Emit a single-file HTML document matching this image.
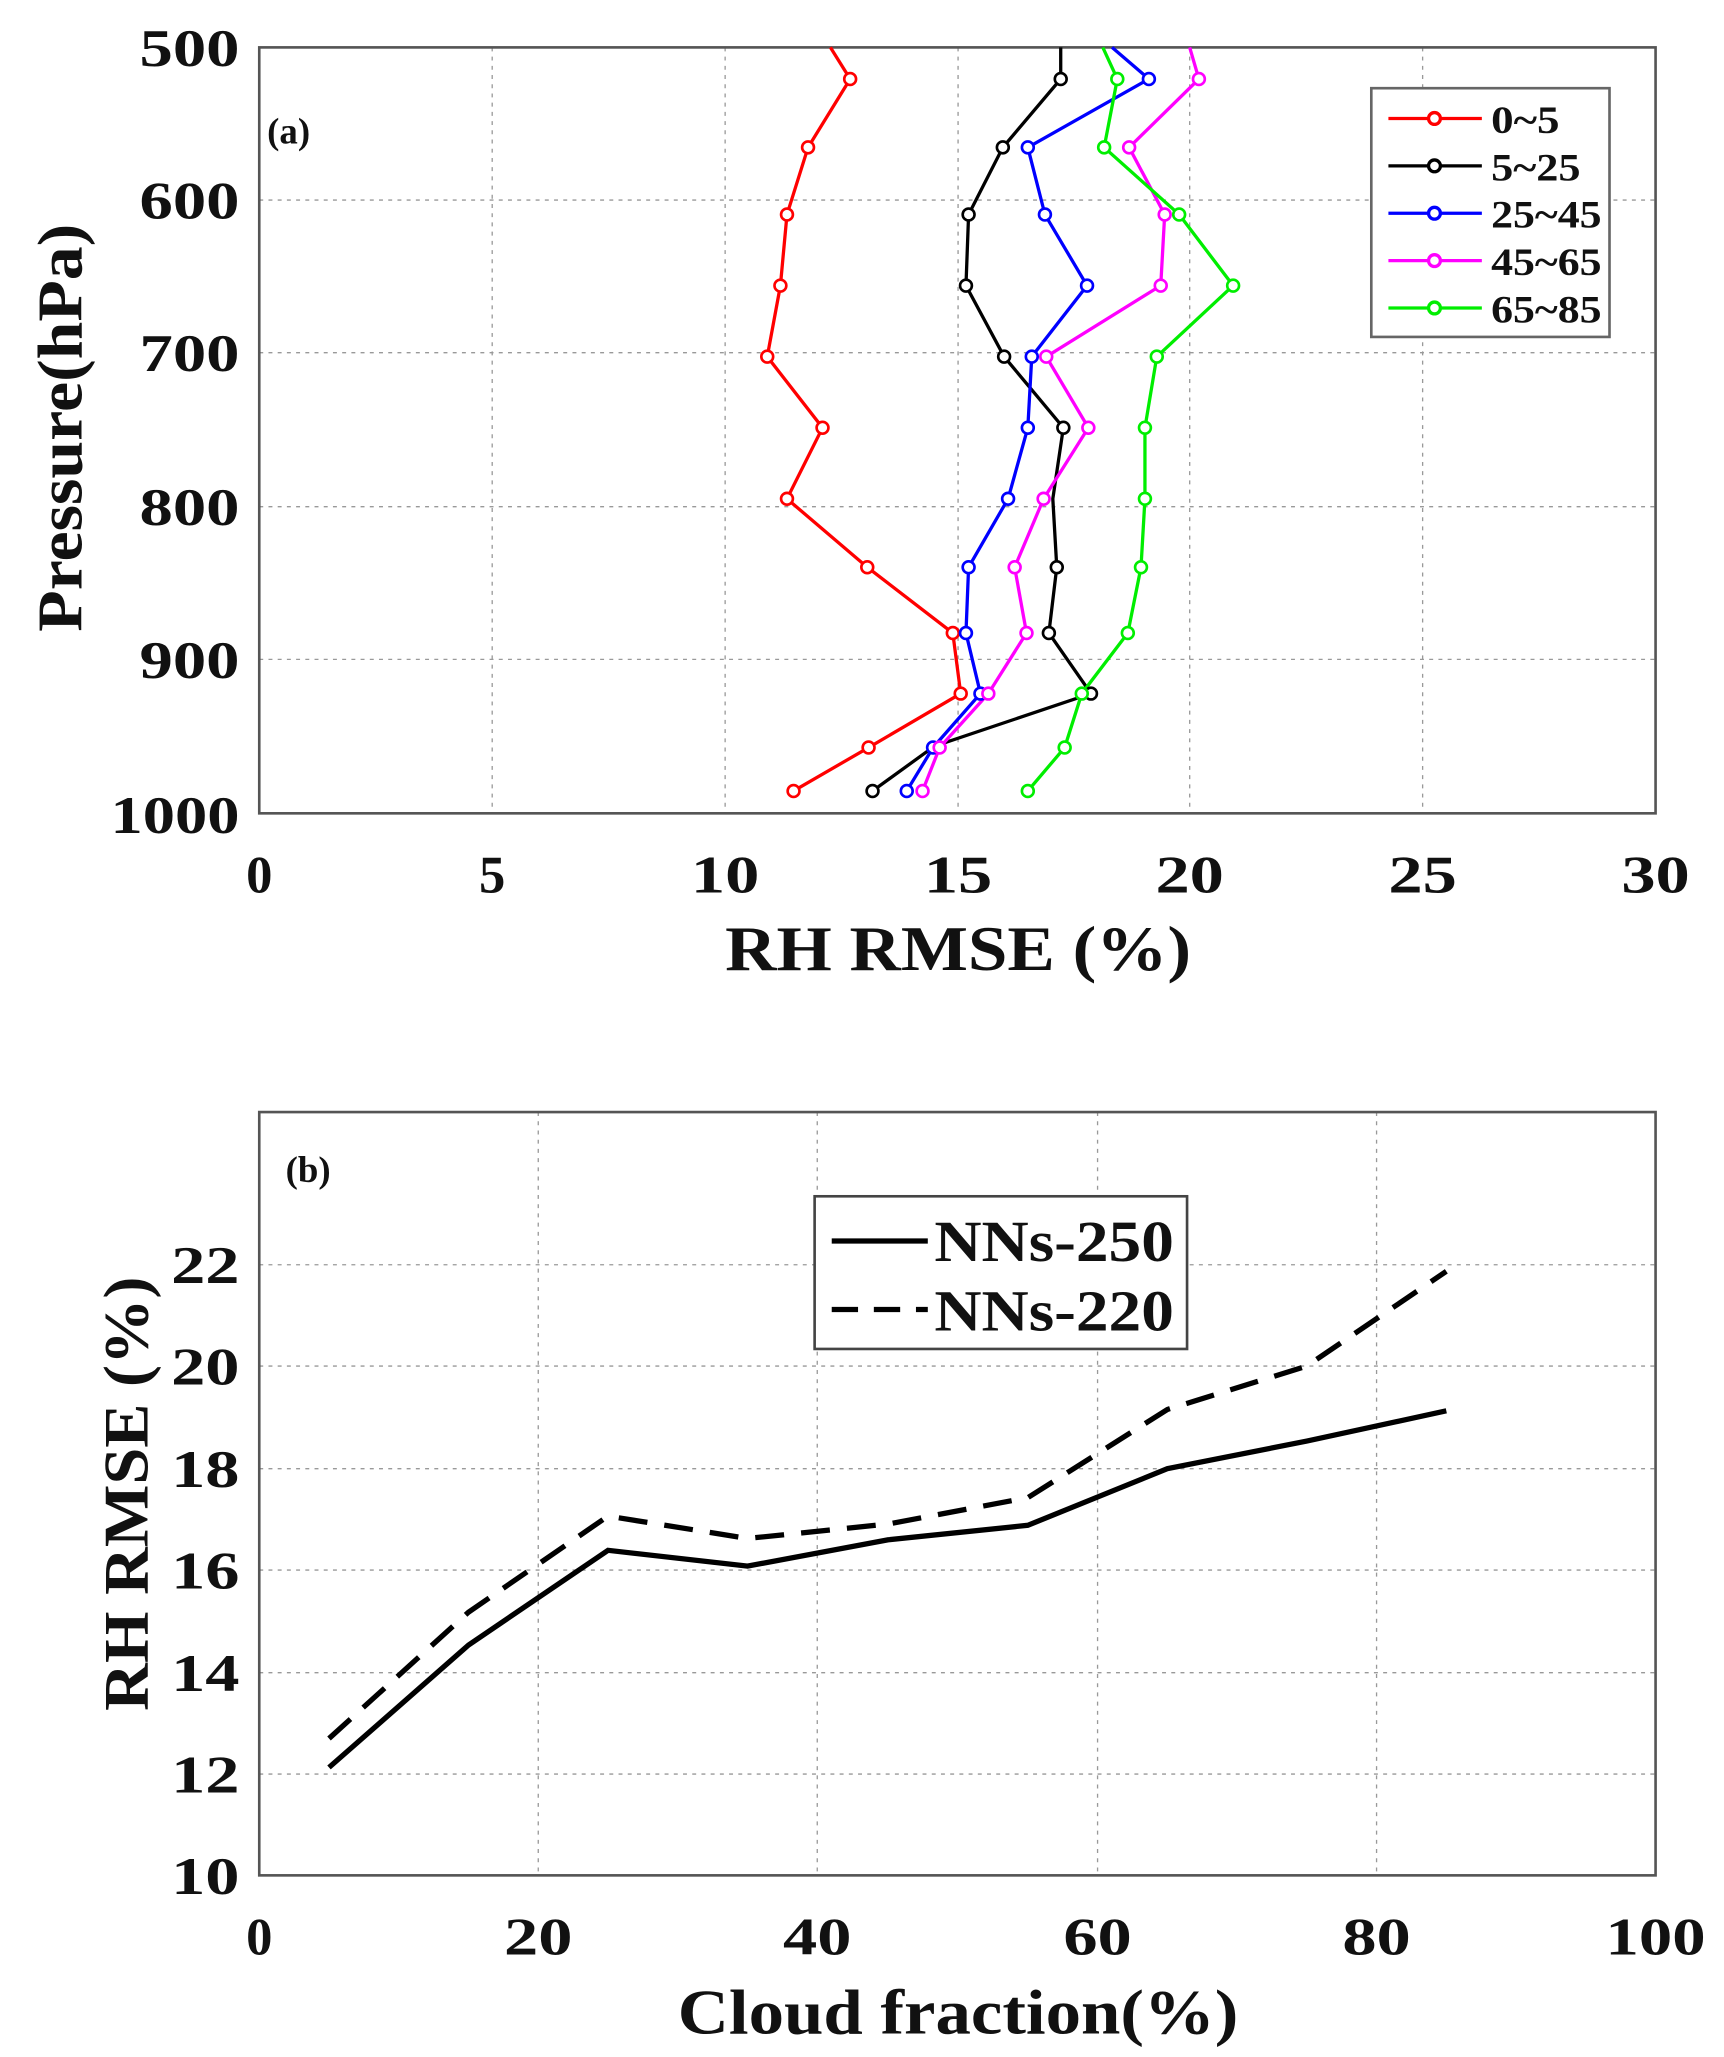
<!DOCTYPE html>
<html><head><meta charset="utf-8"><style>html,body{margin:0;padding:0;background:#fff}svg{display:block}</style></head>
<body>
<svg width="1724" height="2057" viewBox="0 0 1310 1563" xmlns="http://www.w3.org/2000/svg" font-family="'Liberation Serif', serif" font-weight="bold">
<rect width="1310" height="1563" fill="#fff"/>
<!-- Panel (a) grid -->
<g stroke="#999" stroke-width="1" stroke-dasharray="3,4" fill="none">
<line x1="374" y1="36" x2="374" y2="618"/><line x1="551" y1="36" x2="551" y2="618"/><line x1="728" y1="36" x2="728" y2="618"/><line x1="904" y1="36" x2="904" y2="618"/><line x1="1081" y1="36" x2="1081" y2="618"/>
<line x1="197" y1="152" x2="1258" y2="152"/><line x1="197" y1="268" x2="1258" y2="268"/><line x1="197" y1="385" x2="1258" y2="385"/><line x1="197" y1="501" x2="1258" y2="501"/>
</g>
<rect x="197" y="36" width="1061" height="582" fill="none" stroke="#555" stroke-width="2"/>
<g fill="none" stroke-width="2.5">
<polyline stroke="#ff0000" points="631,36 646,60 614,112 598,163 593,217 583,271 625,325 598,379 659,431 724,481 730,527 660,568 603,601"/>
<polyline stroke="#000" points="806,36 806,60 762,112 736,163 734,217 763,271 808,325 800,379 803,431 797,481 829,527 710,567 663,601"/>
<polyline stroke="#0000ff" points="845,36 873,60 781,112 794,163 826,217 784,271 781,325 766,379 736,431 734,481 745,527 709,568 689,601"/>
<polyline stroke="#ff00ff" points="904,36 911,60 858,112 885,163 882,217 795,271 827,325 793,379 771,431 780,481 751,527 714,568 701,601"/>
<polyline stroke="#00ee00" points="838,36 849,60 839,112 896,163 937,217 879,271 870,325 870,379 867,431 857,481 822,527 809,568 781,601"/>
</g>
<g fill="#fff" stroke-width="2">
<g stroke="#ff0000"><circle cx="646" cy="60" r="4.5"/><circle cx="614" cy="112" r="4.5"/><circle cx="598" cy="163" r="4.5"/><circle cx="593" cy="217" r="4.5"/><circle cx="583" cy="271" r="4.5"/><circle cx="625" cy="325" r="4.5"/><circle cx="598" cy="379" r="4.5"/><circle cx="659" cy="431" r="4.5"/><circle cx="724" cy="481" r="4.5"/><circle cx="730" cy="527" r="4.5"/><circle cx="660" cy="568" r="4.5"/><circle cx="603" cy="601" r="4.5"/></g>
<g stroke="#000"><circle cx="806" cy="60" r="4.5"/><circle cx="762" cy="112" r="4.5"/><circle cx="736" cy="163" r="4.5"/><circle cx="734" cy="217" r="4.5"/><circle cx="763" cy="271" r="4.5"/><circle cx="808" cy="325" r="4.5"/><circle cx="803" cy="431" r="4.5"/><circle cx="797" cy="481" r="4.5"/><circle cx="829" cy="527" r="4.5"/><circle cx="663" cy="601" r="4.5"/></g>
<g stroke="#0000ff"><circle cx="873" cy="60" r="4.5"/><circle cx="781" cy="112" r="4.5"/><circle cx="794" cy="163" r="4.5"/><circle cx="826" cy="217" r="4.5"/><circle cx="784" cy="271" r="4.5"/><circle cx="781" cy="325" r="4.5"/><circle cx="766" cy="379" r="4.5"/><circle cx="736" cy="431" r="4.5"/><circle cx="734" cy="481" r="4.5"/><circle cx="745" cy="527" r="4.5"/><circle cx="709" cy="568" r="4.5"/><circle cx="689" cy="601" r="4.5"/></g>
<g stroke="#ff00ff"><circle cx="911" cy="60" r="4.5"/><circle cx="858" cy="112" r="4.5"/><circle cx="885" cy="163" r="4.5"/><circle cx="882" cy="217" r="4.5"/><circle cx="795" cy="271" r="4.5"/><circle cx="827" cy="325" r="4.5"/><circle cx="793" cy="379" r="4.5"/><circle cx="771" cy="431" r="4.5"/><circle cx="780" cy="481" r="4.5"/><circle cx="751" cy="527" r="4.5"/><circle cx="714" cy="568" r="4.5"/><circle cx="701" cy="601" r="4.5"/></g>
<g stroke="#00ee00"><circle cx="849" cy="60" r="4.5"/><circle cx="839" cy="112" r="4.5"/><circle cx="896" cy="163" r="4.5"/><circle cx="937" cy="217" r="4.5"/><circle cx="879" cy="271" r="4.5"/><circle cx="870" cy="325" r="4.5"/><circle cx="870" cy="379" r="4.5"/><circle cx="867" cy="431" r="4.5"/><circle cx="857" cy="481" r="4.5"/><circle cx="822" cy="527" r="4.5"/><circle cx="809" cy="568" r="4.5"/><circle cx="781" cy="601" r="4.5"/></g>
</g>
<!-- legend a -->
<rect x="1042" y="67" width="181" height="189" fill="#fff" stroke="#666" stroke-width="2"/>
<g stroke-width="2.5" fill="#fff">
<line x1="1055" y1="90" x2="1126" y2="90" stroke="#ff0000"/><circle cx="1090" cy="90" r="4.5" stroke="#ff0000"/>
<line x1="1055" y1="126" x2="1126" y2="126" stroke="#000"/><circle cx="1090" cy="126" r="4.5" stroke="#000"/>
<line x1="1055" y1="162" x2="1126" y2="162" stroke="#0000ff"/><circle cx="1090" cy="162" r="4.5" stroke="#0000ff"/>
<line x1="1055" y1="198" x2="1126" y2="198" stroke="#ff00ff"/><circle cx="1090" cy="198" r="4.5" stroke="#ff00ff"/>
<line x1="1055" y1="234" x2="1126" y2="234" stroke="#00ee00"/><circle cx="1090" cy="234" r="4.5" stroke="#00ee00"/>
</g>
<g font-size="30" fill="#111" lengthAdjust="spacingAndGlyphs">
<text x="1133" y="101" textLength="52" lengthAdjust="spacingAndGlyphs">0~5</text><text x="1133" y="137" textLength="68" lengthAdjust="spacingAndGlyphs">5~25</text><text x="1133" y="173" textLength="84" lengthAdjust="spacingAndGlyphs">25~45</text><text x="1133" y="209" textLength="84" lengthAdjust="spacingAndGlyphs">45~65</text><text x="1133" y="245" textLength="84" lengthAdjust="spacingAndGlyphs">65~85</text>
</g>
<text x="203" y="109" font-size="28" fill="#111">(a)</text>
<g font-size="40" fill="#111" text-anchor="end">
<text x="182" y="50" textLength="76" lengthAdjust="spacingAndGlyphs">500</text><text x="182" y="166" textLength="76" lengthAdjust="spacingAndGlyphs">600</text><text x="182" y="282" textLength="76" lengthAdjust="spacingAndGlyphs">700</text><text x="182" y="399" textLength="76" lengthAdjust="spacingAndGlyphs">800</text><text x="182" y="515" textLength="76" lengthAdjust="spacingAndGlyphs">900</text><text x="182" y="633" textLength="98" lengthAdjust="spacingAndGlyphs">1000</text>
</g>
<g font-size="40" fill="#111" text-anchor="middle">
<text x="197" y="678">0</text><text x="374" y="678">5</text><text x="551" y="678" textLength="52" lengthAdjust="spacingAndGlyphs">10</text><text x="728" y="678" textLength="52" lengthAdjust="spacingAndGlyphs">15</text><text x="904" y="678" textLength="52" lengthAdjust="spacingAndGlyphs">20</text><text x="1081" y="678" textLength="52" lengthAdjust="spacingAndGlyphs">25</text><text x="1258" y="678" textLength="52" lengthAdjust="spacingAndGlyphs">30</text>
</g>
<text x="728" y="737" font-size="48" text-anchor="middle" fill="#111" textLength="354" lengthAdjust="spacingAndGlyphs">RH RMSE (%)</text>
<text transform="translate(62,325) rotate(-90)" font-size="48" text-anchor="middle" fill="#111" textLength="310" lengthAdjust="spacingAndGlyphs">Pressure(hPa)</text>

<!-- Panel (b) -->
<g stroke="#999" stroke-width="1" stroke-dasharray="3,4" fill="none">
<line x1="409" y1="845" x2="409" y2="1425"/><line x1="621" y1="845" x2="621" y2="1425"/><line x1="834" y1="845" x2="834" y2="1425"/><line x1="1046" y1="845" x2="1046" y2="1425"/>
<line x1="197" y1="961" x2="1258" y2="961"/><line x1="197" y1="1038" x2="1258" y2="1038"/><line x1="197" y1="1116" x2="1258" y2="1116"/><line x1="197" y1="1193" x2="1258" y2="1193"/><line x1="197" y1="1271" x2="1258" y2="1271"/><line x1="197" y1="1348" x2="1258" y2="1348"/>
</g>
<rect x="197" y="845" width="1061" height="580" fill="none" stroke="#555" stroke-width="2"/>
<polyline fill="none" stroke="#000" stroke-width="4" points="250,1343 356,1250 462,1178 568,1190 675,1170 781,1159 887,1116 993,1095 1099,1072"/>
<polyline fill="none" stroke="#000" stroke-width="4" stroke-dasharray="22,13" points="250,1321 356,1225 462,1152 568,1169 675,1158 781,1138 887,1071 993,1038 1099,966"/>
<rect x="619" y="909" width="283" height="116" fill="#fff" stroke="#444" stroke-width="2"/>
<line x1="632" y1="943" x2="705" y2="943" stroke="#000" stroke-width="4"/>
<line x1="632" y1="995" x2="705" y2="995" stroke="#000" stroke-width="4" stroke-dasharray="20,12"/>
<g font-size="44" fill="#111"><text x="710" y="958" textLength="182" lengthAdjust="spacingAndGlyphs">NNs-250</text><text x="710" y="1011" textLength="182" lengthAdjust="spacingAndGlyphs">NNs-220</text></g>
<text x="217" y="898" font-size="28" fill="#111">(b)</text>
<g font-size="40" fill="#111" text-anchor="end">
<text x="182" y="975" textLength="52" lengthAdjust="spacingAndGlyphs">22</text><text x="182" y="1052" textLength="52" lengthAdjust="spacingAndGlyphs">20</text><text x="182" y="1130" textLength="52" lengthAdjust="spacingAndGlyphs">18</text><text x="182" y="1207" textLength="52" lengthAdjust="spacingAndGlyphs">16</text><text x="182" y="1285" textLength="52" lengthAdjust="spacingAndGlyphs">14</text><text x="182" y="1362" textLength="52" lengthAdjust="spacingAndGlyphs">12</text><text x="182" y="1439" textLength="52" lengthAdjust="spacingAndGlyphs">10</text>
</g>
<g font-size="40" fill="#111" text-anchor="middle">
<text x="197" y="1485">0</text><text x="409" y="1485" textLength="52" lengthAdjust="spacingAndGlyphs">20</text><text x="621" y="1485" textLength="52" lengthAdjust="spacingAndGlyphs">40</text><text x="834" y="1485" textLength="52" lengthAdjust="spacingAndGlyphs">60</text><text x="1046" y="1485" textLength="52" lengthAdjust="spacingAndGlyphs">80</text><text x="1258" y="1485" textLength="76" lengthAdjust="spacingAndGlyphs">100</text>
</g>
<text x="728" y="1545" font-size="48" text-anchor="middle" fill="#111" textLength="426" lengthAdjust="spacingAndGlyphs">Cloud fraction(%)</text>
<text transform="translate(112,1135) rotate(-90)" font-size="48" text-anchor="middle" fill="#111" textLength="330" lengthAdjust="spacingAndGlyphs">RH RMSE (%)</text>
</svg>
</body></html>
